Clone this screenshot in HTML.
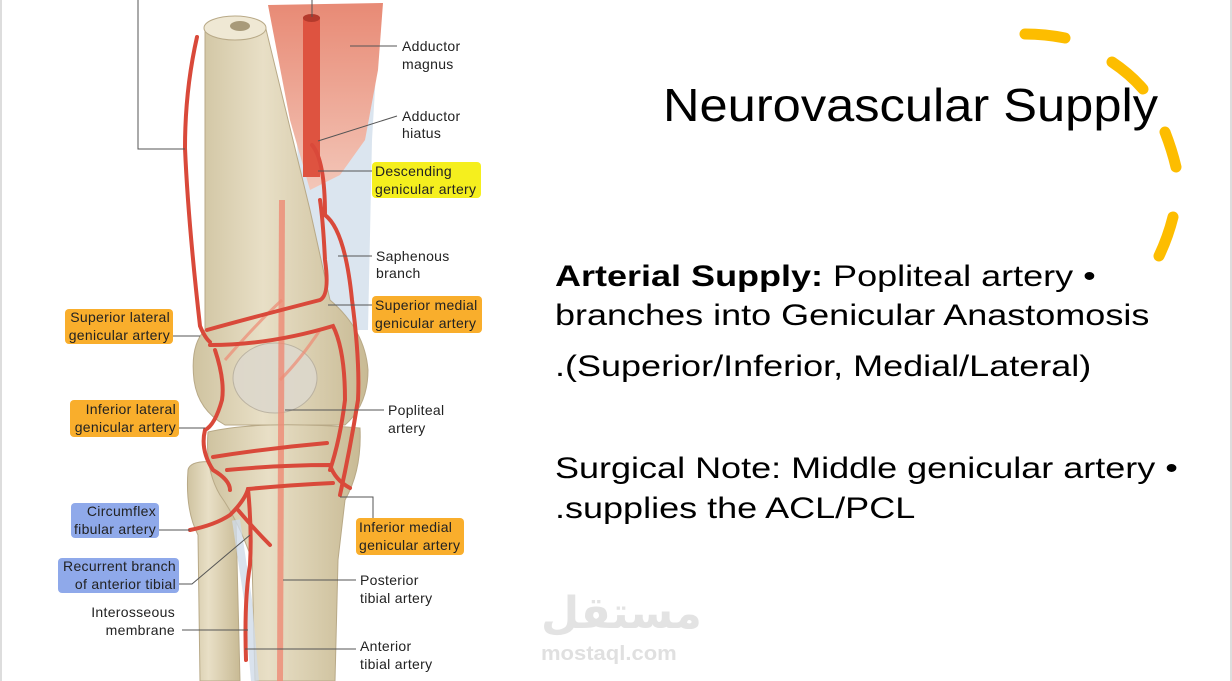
<!DOCTYPE html>
<html><head><meta charset="utf-8"><style>
html,body{margin:0;padding:0;background:#fff;}
body{width:1232px;height:681px;position:relative;overflow:hidden;font-family:"Liberation Sans",sans-serif;}
.t{position:absolute;color:#000;white-space:nowrap;transform-origin:0 0;}
.b{font-size:30px;transform:scaleX(1.2);}
</style></head><body>
<div style="position:absolute;left:0;top:0;width:2px;height:681px;background:#ddd"></div>
<div style="position:absolute;right:0;top:0;width:2px;height:681px;background:#ddd"></div>
<svg width="500" height="681" style="position:absolute;left:0;top:0" font-family="Liberation Sans, sans-serif" font-size="14" letter-spacing="0.3">
<defs>
<linearGradient id="bone" x1="0" x2="1"><stop offset="0" stop-color="#cfc3a0"/><stop offset=".4" stop-color="#e8dfc6"/><stop offset="1" stop-color="#c8ba94"/></linearGradient>
<linearGradient id="mus" x1="0" y1="0" x2="0" y2="1"><stop offset="0" stop-color="#e88a75"/><stop offset="1" stop-color="#f3c6b8"/></linearGradient>
</defs>
<path d="M290 10 L380 5 L372 140 L368 330 L330 330 L300 200 Z" fill="#dbe5ef"/>
<path d="M268 5 L383 3 L378 70 L365 140 L340 175 L310 190 L290 120 Z" fill="url(#mus)"/>
<path d="M205 30 L205 330 Q190 345 194 380 Q198 410 225 425 L345 425 Q368 405 368 370 Q365 330 330 300 L310 210 L265 25 Z" fill="url(#bone)" stroke="#b8a987" stroke-width="1"/>
<ellipse cx="235" cy="28" rx="31" ry="12" fill="#efe8d4" stroke="#b8a987"/>
<ellipse cx="240" cy="26" rx="10" ry="5" fill="#a89a7a"/>
<ellipse cx="275" cy="378" rx="42" ry="35" fill="#ddd8cc" stroke="#b8b0a0" opacity=".9"/>
<path d="M188 470 Q190 460 215 462 Q240 470 236 520 L240 681 L200 681 L198 535 Q185 510 188 470 Z" fill="url(#bone)" stroke="#b8a987"/>
<path d="M208 432 Q260 420 360 428 Q362 470 345 500 L338 560 L335 681 L255 681 L252 560 Q238 520 220 495 Q205 470 208 432 Z" fill="url(#bone)" stroke="#b8a987"/>
<path d="M236 520 L248 600 L255 681" fill="none" stroke="#cfdbe8" stroke-width="8" opacity=".8"/>
<path d="M282 200 L280 681" stroke="#ee8a74" stroke-width="6" fill="none" opacity=".8"/>
<path d="M282 300 Q260 320 225 360 M280 380 Q300 360 320 330" stroke="#ee8a74" stroke-width="3" fill="none" opacity=".7"/>
<rect x="303" y="17" width="17" height="160" fill="#de5340"/>
<ellipse cx="311.5" cy="18" rx="8.5" ry="4" fill="#b43a2c"/>
<g fill="none" stroke="#d9493a" stroke-width="4" stroke-linecap="round">
<path d="M197 37 Q185 90 185 148 Q188 220 200 326 Q205 338 210 342"/>
<path d="M207 330 Q250 318 320 300 Q330 295 325 260 Q323 220 320 200"/>
<path d="M312 145 Q325 160 325 215 Q345 230 352 300 Q360 360 358 400 Q350 450 340 495"/>
<path d="M210 345 Q270 345 333 326 Q345 350 345 400 Q340 440 330 470"/>
<path d="M215 350 Q225 380 222 400 Q215 425 205 430 Q200 450 213 470 Q230 480 230 490"/>
<path d="M213 457 Q270 448 327 443"/>
<path d="M227 470 Q280 465 330 465 Q335 480 350 488"/>
<path d="M248 489 Q290 485 333 483"/>
<path d="M190 530 Q215 525 230 515 Q245 500 248 489"/>
<path d="M248 489 Q252 530 250 565 Q244 600 246 660"/>
<path d="M238 510 Q255 530 270 545"/>
</g>
<g stroke="#555" stroke-width="1" fill="none">
<path d="M138 0 V149 H185"/>
<path d="M312 0 V17"/>
<path d="M350 46 H397"/>
<path d="M318 141 L397 116"/>
<path d="M318 171 H373"/>
<path d="M338 256 H372"/>
<path d="M328 305 H373"/>
<path d="M172 336 H200"/>
<path d="M285 410 H384"/>
<path d="M178 428 H205"/>
<path d="M340 497 H373 V522"/>
<path d="M158 530 H190"/>
<path d="M178 584 H192 L250 535"/>
<path d="M182 630 H248"/>
<path d="M283 580 H356"/>
<path d="M245 649 H356"/>
</g>
<rect x="372" y="162" width="109" height="36" rx="4" fill="#f5ef1e"/>
<rect x="372" y="296" width="110" height="37" rx="4" fill="#f9ae2c"/>
<rect x="65" y="309" width="108" height="35" rx="4" fill="#f9ae2c"/>
<rect x="70" y="400" width="109" height="37" rx="4" fill="#f9ae2c"/>
<rect x="356" y="518" width="108" height="37" rx="4" fill="#f9ae2c"/>
<rect x="71" y="503" width="88" height="35" rx="4" fill="#8fa9ea"/>
<rect x="58" y="558" width="121" height="35" rx="4" fill="#8fa9ea"/>
<g fill="#222">
<text x="402" y="51">Adductor</text><text x="402" y="69">magnus</text>
<text x="402" y="121">Adductor</text><text x="402" y="138">hiatus</text>
<text x="375" y="176">Descending</text><text x="375" y="194">genicular artery</text>
<text x="376" y="261">Saphenous</text><text x="376" y="278">branch</text>
<text x="375" y="310">Superior medial</text><text x="375" y="328">genicular artery</text>
<text x="170" y="322" text-anchor="end">Superior lateral</text><text x="170" y="340" text-anchor="end">genicular artery</text>
<text x="388" y="415">Popliteal</text><text x="388" y="433">artery</text>
<text x="176" y="414" text-anchor="end">Inferior lateral</text><text x="176" y="432" text-anchor="end">genicular artery</text>
<text x="359" y="532">Inferior medial</text><text x="359" y="550">genicular artery</text>
<text x="156" y="516" text-anchor="end">Circumflex</text><text x="156" y="534" text-anchor="end">fibular artery</text>
<text x="176" y="571" text-anchor="end">Recurrent branch</text><text x="176" y="589" text-anchor="end">of anterior tibial</text>
<text x="175" y="617" text-anchor="end">Interosseous</text><text x="175" y="635" text-anchor="end">membrane</text>
<text x="360" y="585">Posterior</text><text x="360" y="603">tibial artery</text>
<text x="360" y="651">Anterior</text><text x="360" y="669">tibial artery</text>
</g>
</svg>
<svg width="1232" height="681" style="position:absolute;left:0;top:0" fill="none" stroke="#fdbd00" stroke-width="11" stroke-linecap="round">
<path d="M1025 34 Q1045 34 1065 38"/>
<path d="M1112 62 Q1130 74 1143 89"/>
<path d="M1165 132 Q1172 150 1176 167"/>
<path d="M1173 217 Q1168 237 1159 256"/>
</svg>
<div class="t" style="left:663px;top:78px;font-size:46px;transform:scaleX(1.1);">Neurovascular Supply</div>
<div class="t b" style="left:555px;top:260px;"><b>Arterial Supply:</b> Popliteal artery •</div>
<div class="t b" style="left:555px;top:299px;">branches into Genicular Anastomosis</div>
<div class="t b" style="left:555px;top:350px;">.(Superior/Inferior, Medial/Lateral)</div>
<div class="t b" style="left:555px;top:452px;">Surgical Note: Middle genicular artery •</div>
<div class="t b" style="left:555px;top:492px;">.supplies the ACL/PCL</div>
<div class="t" style="left:541px;top:588px;font-size:44px;font-weight:bold;color:#e3e3e3;font-family:'DejaVu Sans',sans-serif;">مستقل</div>
<div class="t" style="left:541px;top:643px;font-size:20px;font-weight:bold;color:#e0e0e0;transform:scaleX(1.1);">mostaql.com</div>
</body></html>
